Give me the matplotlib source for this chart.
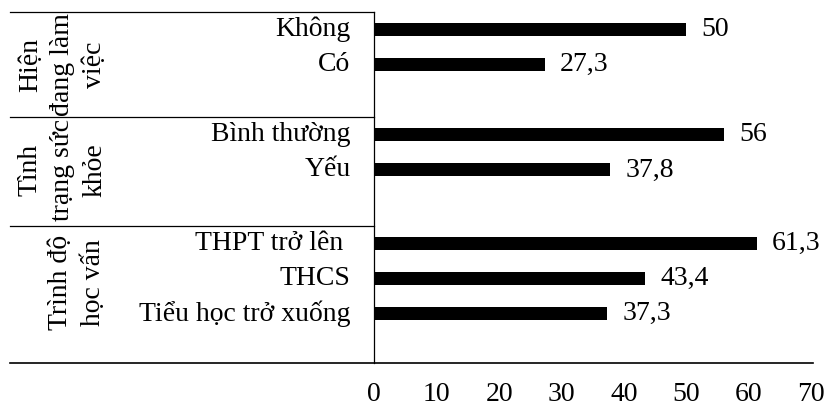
import numpy as np
import matplotlib
matplotlib.use("Agg")
import matplotlib.pyplot as plt

plt.rcParams['font.family'] = ['Liberation Serif', 'DejaVu Serif']

# data
groups = ["Hiện\nđang làm\nviệc", "Tình\ntrạng sức\nkhỏe", "Trình độ\nhọc vấn"]
labels = [["Không", "Có"],
          ["Bình thường", "Yếu"],
          ["THPT trở lên ", "THCS", "Tiểu học trở xuống"]]
values = [[50, 27.3],
          [56, 37.8],
          [61.3, 43.4, 37.3]]
xticks = [0, 10, 20, 30, 40, 50, 60, 70]

# slots of each group on the category axis (top to bottom)
group_start = [0, 3, 6.1]
group_text_y = [1.5, 4.5, 7.7]
group_text_x = [-0.713, -0.713, -0.68]

fig = plt.figure(figsize=(8.27, 4.07), dpi=100)
ax = fig.add_axes([0.4525, 0.108, 0.5285, 0.8625])

fs = 20
for g in range(len(groups)):
    ys = [group_start[g] + 0.5 + i for i in range(len(values[g]))]
    ax.barh(ys, values[g], height=0.37, color='black')
    for y, v, lab in zip(ys, values[g], labels[g]):
        ax.annotate(str(v).replace('.', ','), (v, y), xytext=(11, 0),
                    textcoords='offset points', ha='left', va='center', fontsize=fs)
        ax.annotate(lab, (0, y), xycoords=('axes fraction', 'data'), xytext=(-17, 0),
                    textcoords='offset points', ha='right', va='center', fontsize=fs)
    ax.text(group_text_x[g], group_text_y[g], groups[g], rotation=90,
            transform=ax.get_yaxis_transform(), ha='center', va='center',
            fontsize=fs, linespacing=1.38, multialignment='center')

# separator lines in the label area and the bottom line
for b in group_start:
    ax.plot([-0.833, 0], [b, b], color='black', lw=0.9,
            transform=ax.get_yaxis_transform(), clip_on=False)
ax.plot([-0.833, 1.003], [10, 10], color='black', lw=1.2,
        transform=ax.get_yaxis_transform(), clip_on=False)

ax.set_ylim(10, 0)
ax.set_xlim(0, 70)
ax.set_xticks(xticks)
ax.set_yticks([])
ax.tick_params(axis='x', length=0, pad=14, labelsize=fs)
for s in ['top', 'right', 'bottom']:
    ax.spines[s].set_visible(False)
ax.spines['left'].set_linewidth(0.9)

fig.savefig("out.png", dpi=100)
